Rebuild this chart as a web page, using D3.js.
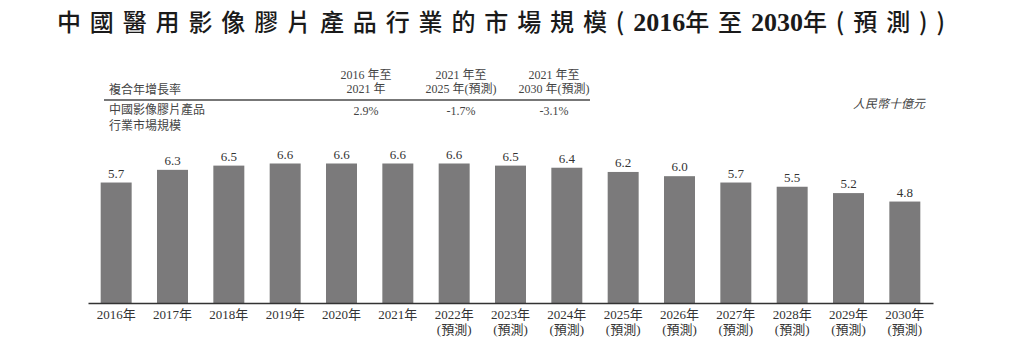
<!DOCTYPE html>
<html>
<head>
<meta charset="utf-8">
<script src="https://cdn.jsdelivr.net/npm/d3@7/dist/d3.min.js"></script>
<style>
  html, body { margin: 0; padding: 0; background: #fff; }
  svg { display: block; }
  text { font-family: "Liberation Serif", "Noto Sans CJK TC", serif; }
</style>
</head>
<body>
<svg id="chart" width="1016" height="358"></svg>
<script>
// ---- data ----
const years = ["2016年","2017年","2018年","2019年","2020年","2021年","2022年","2023年","2024年","2025年","2026年","2027年","2028年","2029年","2030年"];
const forecast = [false,false,false,false,false,false,true,true,true,true,true,true,true,true,true];
const values = [5.7, 6.3, 6.5, 6.6, 6.6, 6.6, 6.6, 6.5, 6.4, 6.2, 6.0, 5.7, 5.5, 5.2, 4.8];
const forecastLabel = "(預測)";
const titleParts = ["中國醫用影像膠片產品行業的市場規模(", "2016", "年至", "2030", "年(預測))"];
const unitText = "人民幣十億元";
const cagrHeader = "複合年增長率";
const cagrPeriods = [["2016 年至", "2021 年"], ["2021 年至", "2025 年(預測)"], ["2021 年至", "2030 年(預測)"]];
const cagrRowLabel = ["中國影像膠片產品", "行業市場規模"];
const cagrValues = ["2.9%", "-1.7%", "-3.1%"];

// ---- layout ----
const svg = d3.select("#chart");
const baseY = 303;
const x = d3.scaleBand().domain(years).range([88, 933]).paddingInner(0.45).paddingOuter(0.225);
const y = d3.scaleLinear().domain([0, 6.6]).range([baseY, 163.5]);

// title: CJK spaced out, digits tight
const title = svg.append("text")
  .attr("x", 57).attr("y", 31)
  .attr("fill", "#1a1a1a");
titleParts.forEach(p => {
  const isDigit = /^\d+$/.test(p);
  title.append("tspan")
    .attr("class", isDigit ? "dig" : "cjk")
    .style("font-family", isDigit ? "'Liberation Serif'" : "'Noto Sans CJK TC'")
    .style("font-weight", isDigit ? "bold" : "500")
    .style("font-size", isDigit ? "26px" : "24px")
    .text(p);
});
const w0 = title.node().getComputedTextLength();
const nCjk = titleParts.filter(p => !/^\d+$/.test(p)).join("").length;
const ls = (888 - w0) / (nCjk - 1);
title.selectAll("tspan.cjk").style("letter-spacing", ls + "px");

// CAGR table
const tcol = "#444";
const colX = [366, 461, 554];
svg.append("text").attr("x", 109).attr("y", 94).attr("fill", tcol)
  .style("font-size", "12px").text(cagrHeader);
cagrPeriods.forEach((p, i) => {
  p.forEach((line, j) => {
    svg.append("text").attr("x", colX[i]).attr("y", 79 + j * 13.5)
      .attr("text-anchor", "middle").attr("fill", tcol)
      .style("font-size", "12px").text(line);
  });
});
svg.append("line").attr("x1", 104).attr("x2", 590).attr("y1", 100).attr("y2", 100)
  .attr("stroke", "#777").attr("stroke-width", 2);
cagrRowLabel.forEach((line, j) => {
  svg.append("text").attr("x", 109).attr("y", 113.5 + j * 16).attr("fill", tcol)
    .style("font-size", "12px").text(line);
});
cagrValues.forEach((v, i) => {
  svg.append("text").attr("x", colX[i]).attr("y", 114.5)
    .attr("text-anchor", "middle").attr("fill", tcol)
    .style("font-size", "12px").text(v);
});

// unit
svg.append("text").attr("x", 925).attr("y", 108).attr("text-anchor", "end")
  .attr("fill", "#444").style("font-size", "12px").style("font-style", "italic")
  .text(unitText);

// bars
svg.selectAll("rect.bar").data(values).join("rect")
  .attr("class", "bar")
  .attr("x", (d, i) => x(years[i]))
  .attr("width", x.bandwidth())
  .attr("y", d => y(d))
  .attr("height", d => baseY - y(d))
  .attr("fill", "#7b7a7b");

// value labels
svg.selectAll("text.val").data(values).join("text")
  .attr("class", "val")
  .attr("x", (d, i) => x(years[i]) + x.bandwidth() / 2)
  .attr("y", d => y(d) - 5)
  .attr("text-anchor", "middle")
  .attr("fill", "#333")
  .style("font-size", "13px")
  .text(d => d.toFixed(1));

// x axis
const axis = d3.axisBottom(x).tickSize(0).tickPadding(0);
const gx = svg.append("g").attr("transform", `translate(0,${baseY})`).call(axis);
gx.select(".domain").attr("stroke", "#333").attr("stroke-width", 1.5);
gx.selectAll(".tick text").remove();
gx.selectAll(".tick").each(function(d, i) {
  const t = d3.select(this).append("text")
    .attr("fill", "#333").attr("text-anchor", "middle")
    .style("font-size", "13px");
  t.append("tspan").attr("x", 0).attr("y", 16).text(d);
  if (forecast[i]) t.append("tspan").attr("x", 0).attr("y", 31).text(forecastLabel);
});
</script>
</body>
</html>
